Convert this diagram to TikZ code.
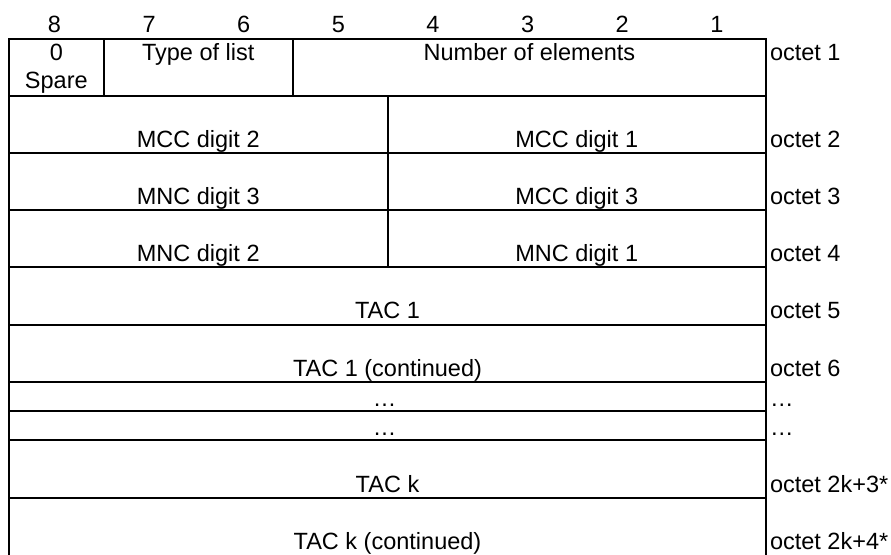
\documentclass[tikz,border=0pt]{standalone}
\usepackage{fontspec}
\setmainfont{Liberation Sans}

\begin{document}
\begin{tikzpicture}[x=94.625pt,y=-1pt,line width=2pt,
  every node/.style={font=\fontsize{23.5}{28}\selectfont,inner sep=0pt,anchor=base},
  octet/.style={anchor=base west,xshift=3pt}]
  \useasboundingbox (-9pt,39pt) rectangle (882pt,-515pt);
  \draw (0,522) -- (0,0) -- (8,0) -- (8,522);
  \foreach \y in {57,114,171,228,285.5,343,372,401,458.5} \draw (0,\y) -- (8,\y);
  \draw (1,0) -- (1,57) (3,0) -- (3,57) (4,57) -- (4,228);
  \foreach \b [count=\i] in {8,...,1} \node (bit\b) at (\i-0.52,-6) {\b};
  \node (zero) at (0.5,21) {0};
  \node (spare) at (0.5,49) {Spare};
  \node (type) at (2,21) {Type of list};
  \node (num) at (5.5,21) {Number of elements};
  \node (mcc2) at (2,108) {MCC digit 2};
  \node (mcc1) at (6,108) {MCC digit 1};
  \node (mnc3) at (2,165) {MNC digit 3};
  \node (mcc3) at (6,165) {MCC digit 3};
  \node (mnc2) at (2,222) {MNC digit 2};
  \node (mnc1) at (6,222) {MNC digit 1};
  \node (tac1) at (4,279.5) {TAC 1};
  \node (tac1c) at (4,337) {TAC 1 (continued)};
  \node (dotsa) at (3.97,367) {…};
  \node (dotsb) at (3.97,396) {…};
  \node (tack) at (4,453) {TAC k};
  \node (tackc) at (4,510) {TAC k (continued)};
  \foreach \y/\t [count=\i] in {21/octet 1,108/octet 2,165/octet 3,222/octet 4,279.5/octet 5,
      337/octet 6,367/…,396/…,453/octet 2k+3*,510/octet 2k+4*}
    \node[octet] (oct\i) at (8,\y) {\t};
\end{tikzpicture}
\end{document}
